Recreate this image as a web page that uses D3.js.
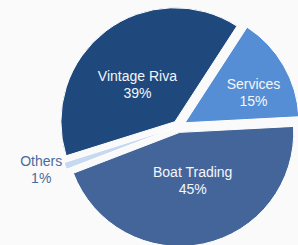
<!DOCTYPE html>
<html>
<head>
<meta charset="utf-8">
<script src="https://cdn.jsdelivr.net/npm/d3@7"></script>
<style>
html, body { margin: 0; padding: 0; background: #fafafa; }
svg { display: block; }
text { font-family: "Liberation Sans", Arial, sans-serif; font-size: 14px; }
</style>
</head>
<body>
<script>
//----
//Data
//----
var categories = ['Services', 'Boat Trading', 'Others', 'Vintage Riva']
var values = [15, 45, 1, 39]
var pctLabels = ['15%', '45%', '1%', '39%']
var colors = ['#558ed5', '#44659a', '#c6d9f1', '#1f497d']

//------
//Config
//------
var _width = 298,
	_height = 245

var _config = {
	'cx' : 178.5,
	'cy' : 126.5,
	'radius' : 114,
	'startDeg' : 33,
	//explode distance for each slice
	'explode' : [7.5, 6, 6, 6],
	//label distance from slice apex and angle tweak (deg)
	'labelRadius' : [75, 50, 138, 53],
	'labelTurn' : [6, -3, 1.7, -7.8],
	'labelInside' : [true, true, false, true]
}

var _svg = d3.select('body').append('svg')
	.attr('width', _width)
	.attr('height', _height)

var pie = d3.pie()
	.sort(null)
	.value(function(d){ return d })
	.startAngle(_config.startDeg * Math.PI / 180)
	.endAngle(_config.startDeg * Math.PI / 180 + 2 * Math.PI)

var arc = d3.arc()
	.innerRadius(0)
	.outerRadius(_config.radius)

var slices = pie(values)

//offset of each slice along its middle angle
function _apex(d, i){
	var mid = (d.startAngle + d.endAngle) / 2
	return [
		_config.cx + _config.explode[i] * Math.sin(mid),
		_config.cy - _config.explode[i] * Math.cos(mid)
	]
}

var gSlices = _svg.append('g')
gSlices.selectAll('path.slice').data(slices)
	.enter().append('path')
	.classed('slice', true)
	.attr('d', arc)
	.attr('transform', function(d, i){ return 'translate(' + _apex(d, i) + ')' })
	.attr('fill', function(d, i){ return colors[i] })
	.attr('stroke', '#ffffff')
	.attr('stroke-width', 1)

var gLabels = _svg.append('g')
var labels = gLabels.selectAll('g.label').data(slices)
	.enter().append('g')
	.classed('label', true)
	.attr('transform', function(d, i){
		var p = _apex(d, i)
		var a = (d.startAngle + d.endAngle) / 2 + _config.labelTurn[i] * Math.PI / 180
		var x = p[0] + _config.labelRadius[i] * Math.sin(a)
		var y = p[1] - _config.labelRadius[i] * Math.cos(a)
		return 'translate(' + x + ',' + y + ')'
	})

labels.each(function(d, i){
	var g = d3.select(this)
	var fill = _config.labelInside[i] ? '#f4f6fa' : '#4a6a9c'
	g.append('text')
		.attr('text-anchor', 'middle')
		.attr('y', -3.5)
		.attr('fill', fill)
		.text(categories[i])
	g.append('text')
		.attr('text-anchor', 'middle')
		.attr('y', 13.5)
		.attr('fill', fill)
		.text(pctLabels[i])
})
</script>
</body>
</html>
